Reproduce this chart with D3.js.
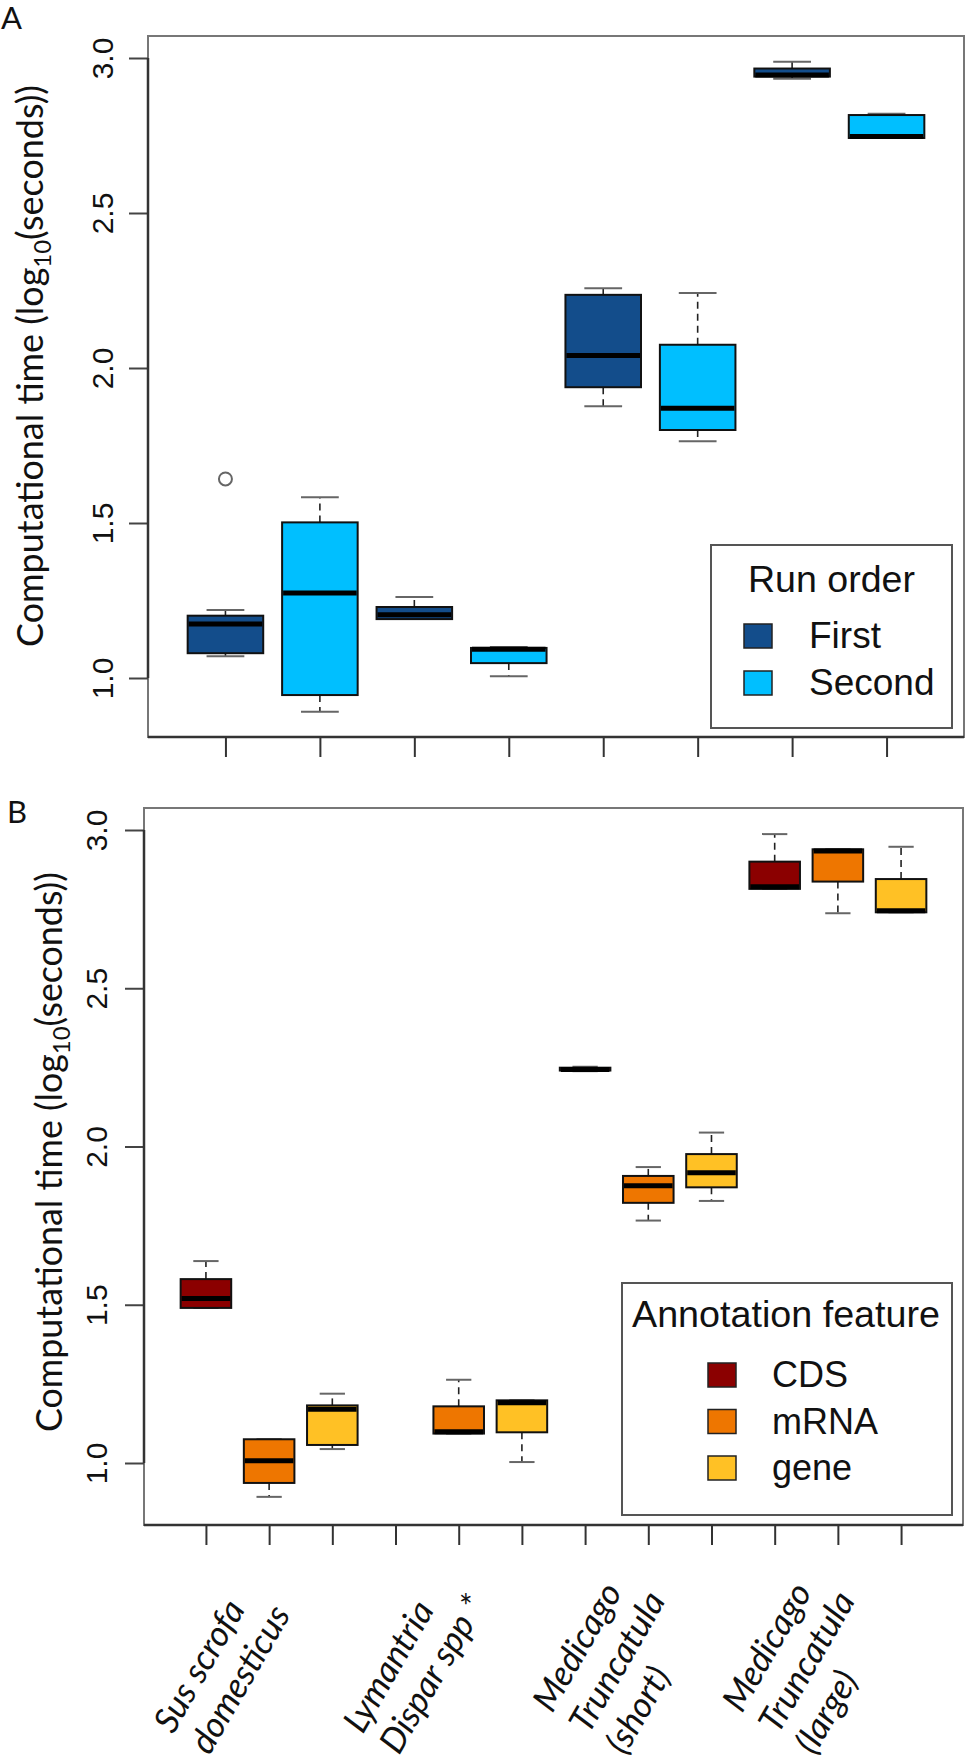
<!DOCTYPE html>
<html>
<head>
<meta charset="utf-8">
<script src="https://cdn.jsdelivr.net/npm/d3@7"></script>
<style>
  body { margin: 0; background: #fff; }
  svg { display: block; }
</style>
</head>
<body>
<div id="chart"></div>
<script>
// categories
var speciesLines = [
  ["Sus scrofa", "domesticus"],
  ["Lymantria", "Dispar spp *"],
  ["Medicago", "Truncatula", "(short)"],
  ["Medicago", "Truncatula", "(large)"]
];
var runOrder = ["First", "Second"];
var features = ["CDS", "mRNA", "gene"];
var yTicks = [1.0, 1.5, 2.0, 2.5, 3.0];

// panel A: [lower whisker, q1, median, q3, upper whisker] per species
var firstRun = [
  [1.070, 1.080, 1.174, 1.201, 1.219],
  [1.190, 1.190, 1.204, 1.229, 1.261],
  [1.877, 1.938, 2.040, 2.236, 2.257],
  [2.933, 2.940, 2.945, 2.966, 2.988]
];
var secondRun = [
  [0.891, 0.945, 1.274, 1.502, 1.583],
  [1.006, 1.048, 1.093, 1.097, 1.100],
  [1.764, 1.800, 1.870, 2.075, 2.242],
  [2.742, 2.742, 2.747, 2.816, 2.820]
];
var firstOutliers = [[1.642], [], [], []];
var secondOutliers = [[], [], [], []];

// panel B: same summary per species, CDS missing for Lymantria
var cdsStats = [
  [1.490, 1.490, 1.520, 1.581, 1.638],
  null,
  [2.238, 2.240, 2.243, 2.249, 2.252],
  [2.814, 2.814, 2.821, 2.900, 2.987]
];
var mrnaStats = [
  [0.893, 0.937, 1.007, 1.075, 1.075],
  [1.093, 1.093, 1.099, 1.179, 1.263],
  [1.766, 1.822, 1.876, 1.907, 1.935],
  [2.737, 2.837, 2.934, 2.939, 2.939]
];
var geneStats = [
  [1.044, 1.057, 1.170, 1.182, 1.219],
  [1.003, 1.097, 1.190, 1.198, 1.198],
  [1.828, 1.871, 1.917, 1.976, 2.044],
  [2.740, 2.740, 2.745, 2.845, 2.947]
];

var runColors = ["#134d8b", "#00bfff"];
var featureColors = ["#8b0000", "#ee7600", "#ffc125"];

var svg = d3.select("#chart")
  .append("svg")
  .attr("width", 968)
  .attr("height", 1761);

// build box lists from the arrays
var boxesA = [];
[firstRun, secondRun].forEach(function(run, r) {
  var outs = r === 0 ? firstOutliers : secondOutliers;
  run.forEach(function(s, i) {
    boxesA.push({pos: i * 2 + r + 1, stats: s, color: runColors[r], outliers: outs[i]});
  });
});

var boxesB = [];
[cdsStats, mrnaStats, geneStats].forEach(function(feat, f) {
  feat.forEach(function(s, i) {
    if (s) boxesB.push({pos: i * 3 + f + 1, stats: s, color: featureColors[f], outliers: []});
  });
});

function drawPanel(p) {
  var g = svg.append("g");

  var x = d3.scaleLinear().domain(p.xDomain).range([p.left, p.right]);
  var y = d3.scaleLinear().domain([1, 3]).range(p.yRange);

  // plot frame
  g.append("rect")
    .attr("x", p.left).attr("y", p.top)
    .attr("width", p.right - p.left).attr("height", p.bottom - p.top)
    .attr("fill", "none").attr("stroke", "#777").attr("stroke-width", 2);

  // y axis
  var yAxis = g.append("g")
    .attr("transform", `translate(${p.left},0)`)
    .call(d3.axisLeft(y).tickValues(yTicks).tickSize(19).tickSizeOuter(0).tickFormat(d3.format(".1f")));
  yAxis.select(".domain").remove();
  yAxis.selectAll(".tick line").attr("stroke", "#444").attr("stroke-width", 2);
  yAxis.selectAll(".tick text")
    .attr("x", null).attr("dy", null)
    .attr("transform", `translate(${p.labelOffset},0) rotate(-90)`)
    .attr("text-anchor", "middle")
    .attr("font-family", "Liberation Sans, Arial, sans-serif")
    .attr("font-size", 30)
    .attr("fill", "#111");
  g.append("line")
    .attr("x1", p.left).attr("x2", p.left)
    .attr("y1", y(yTicks[0])).attr("y2", y(yTicks[yTicks.length - 1]))
    .attr("stroke", "#333").attr("stroke-width", 2.5);

  // x axis, ticks only
  var xAxis = g.append("g")
    .attr("transform", `translate(0,${p.bottom})`)
    .call(d3.axisBottom(x).tickValues(d3.range(1, p.n + 1)).tickSize(20).tickSizeOuter(0).tickFormat(""));
  xAxis.select(".domain").remove();
  xAxis.selectAll(".tick line").attr("stroke", "#333").attr("stroke-width", 2);
  g.append("line")
    .attr("x1", p.left).attr("x2", p.right)
    .attr("y1", p.bottom).attr("y2", p.bottom)
    .attr("stroke", "#333").attr("stroke-width", 2.5);

  // boxes
  var box = g.selectAll(".box")
    .data(p.boxes)
    .enter()
    .append("g")
    .attr("class", "box");

  box.append("line")
    .attr("x1", d => x(d.pos)).attr("x2", d => x(d.pos))
    .attr("y1", d => y(d.stats[3])).attr("y2", d => y(d.stats[4]))
    .attr("stroke", "#222").attr("stroke-width", 1.6).attr("stroke-dasharray", "7,5");
  box.append("line")
    .attr("x1", d => x(d.pos)).attr("x2", d => x(d.pos))
    .attr("y1", d => y(d.stats[1])).attr("y2", d => y(d.stats[0]))
    .attr("stroke", "#222").attr("stroke-width", 1.6).attr("stroke-dasharray", "7,5");

  [0, 4].forEach(function(k) {
    box.append("line")
      .attr("x1", d => x(d.pos - 0.2)).attr("x2", d => x(d.pos + 0.2))
      .attr("y1", d => y(d.stats[k])).attr("y2", d => y(d.stats[k]))
      .attr("stroke", "#666").attr("stroke-width", 2);
  });

  box.append("rect")
    .attr("x", d => x(d.pos - 0.4))
    .attr("width", d => x(d.pos + 0.4) - x(d.pos - 0.4))
    .attr("y", d => y(d.stats[3]))
    .attr("height", d => Math.max(1, y(d.stats[1]) - y(d.stats[3])))
    .attr("fill", d => d.color)
    .attr("stroke", "#111").attr("stroke-width", 2);

  box.append("line")
    .attr("x1", d => x(d.pos - 0.4) + 1).attr("x2", d => x(d.pos + 0.4) - 1)
    .attr("y1", d => y(d.stats[2])).attr("y2", d => y(d.stats[2]))
    .attr("stroke", "#000").attr("stroke-width", 5);

  box.each(function(d) {
    d3.select(this).selectAll("circle")
      .data(d.outliers)
      .enter()
      .append("circle")
      .attr("cx", x(d.pos))
      .attr("cy", v => y(v))
      .attr("r", 6.5)
      .attr("fill", "none")
      .attr("stroke", "#666").attr("stroke-width", 2);
  });

  // y title with subscript, squeezed to the reference length
  var title = g.append("text")
    .attr("font-family", "Lato, Carlito, sans-serif")
    .attr("font-size", 36)
    .attr("fill", "#111");
  title.append("tspan").text("Computational time (log");
  title.append("tspan").attr("font-size", 24).attr("dy", 8).text("10");
  title.append("tspan").attr("dy", -8).text("(seconds))");
  var len = title.node().getComputedTextLength();
  title.attr("transform", `translate(${p.titleX},${p.titleY}) rotate(-90) scale(${p.titleLen / len},1)`);

  // panel letter
  g.append("text")
    .attr("x", p.letterX).attr("y", p.letterY)
    .attr("font-family", "Lato, Carlito, sans-serif")
    .attr("font-size", 31)
    .attr("fill", "#111")
    .text(p.letter);

  // legend
  var lg = g.append("g");
  lg.append("rect")
    .attr("x", p.legend.x0).attr("y", p.legend.y0)
    .attr("width", p.legend.x1 - p.legend.x0).attr("height", p.legend.y1 - p.legend.y0)
    .attr("fill", "#fff").attr("stroke", "#555").attr("stroke-width", 2);
  lg.append("text")
    .attr("x", p.legend.titleX).attr("y", p.legend.titleY)
    .attr("font-family", "Liberation Sans, Arial, sans-serif")
    .attr("font-size", p.legend.size)
    .attr("textLength", p.legend.titleLen)
    .attr("lengthAdjust", "spacingAndGlyphs")
    .attr("fill", "#111")
    .text(p.legend.title);
  var item = lg.selectAll(".item")
    .data(p.legend.keys)
    .enter()
    .append("g")
    .attr("transform", (d, i) => `translate(0,${p.legend.rowY + i * p.legend.rowStep})`);
  item.append("rect")
    .attr("x", p.legend.swatchX).attr("y", -24)
    .attr("width", 28).attr("height", 24)
    .attr("fill", (d, i) => p.legend.colors[i])
    .attr("stroke", "#222").attr("stroke-width", 1.5);
  item.append("text")
    .attr("x", p.legend.textX).attr("y", 0)
    .attr("font-family", "Liberation Sans, Arial, sans-serif")
    .attr("font-size", p.legend.size)
    .attr("fill", "#111")
    .text(d => d);

  return x;
}

drawPanel({
  letter: "A", letterX: 1, letterY: 29,
  left: 148, right: 964, top: 36, bottom: 737,
  xDomain: [0.18, 8.82], yRange: [678, 58], n: 8,
  boxes: boxesA, labelOffset: -35,
  titleX: 43, titleY: 647, titleLen: 562,
  legend: {
    x0: 711, x1: 952, y0: 545, y1: 728,
    title: "Run order", titleX: 748, titleY: 592, titleLen: 167, size: 37,
    keys: runOrder, colors: runColors,
    rowY: 648, rowStep: 47, swatchX: 744, textX: 809
  }
});

var xB = drawPanel({
  letter: "B", letterX: 7, letterY: 823,
  left: 144, right: 963, top: 808, bottom: 1525,
  xDomain: [0.02, 12.98], yRange: [1463, 830], n: 12,
  boxes: boxesB, labelOffset: -37,
  titleX: 62, titleY: 1432, titleLen: 560,
  legend: {
    x0: 622, x1: 952, y0: 1283, y1: 1515,
    title: "Annotation feature", titleX: 632, titleY: 1327, titleLen: 308, size: 36,
    keys: features, colors: featureColors,
    rowY: 1387, rowStep: 46.5, swatchX: 708, textX: 772
  }
});

// rotated species labels under the middle box of each group
var labels = svg.selectAll(".species")
  .data(speciesLines)
  .enter()
  .append("g")
  .attr("class", "species")
  .attr("transform", (d, i) => `translate(${xB(i * 3 + 2) - 96},${1756 - (d.length - 1) * 21}) rotate(-60)`);

labels.selectAll("text")
  .data(d => d)
  .enter()
  .append("text")
  .attr("x", 0)
  .attr("y", (d, j) => j * 42)
  .attr("font-family", "Lato, Carlito, sans-serif")
  .attr("font-style", "italic")
  .attr("font-size", 35)
  .attr("fill", "#111")
  .text(d => d);
</script>
</body>
</html>
